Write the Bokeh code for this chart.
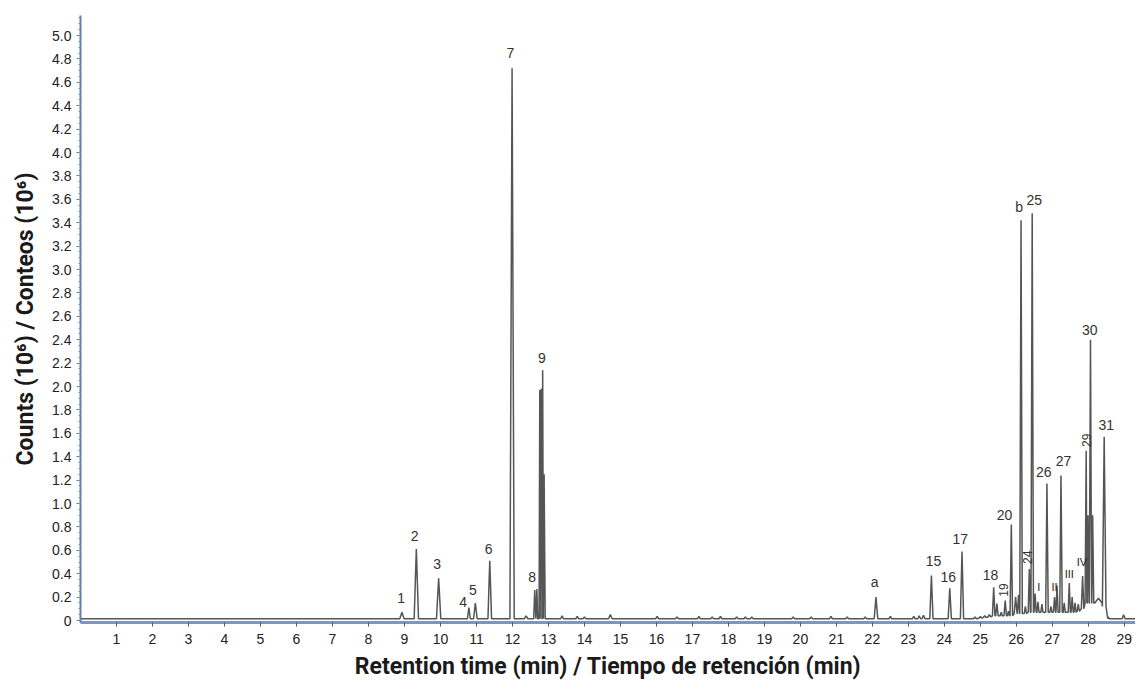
import math
from bokeh.plotting import figure
from bokeh.models import Range1d, FixedTicker, ColumnDataSource, Title
from bokeh.core.properties import value
from bokeh.embed import file_html
from bokeh.resources import INLINE

# ---------------- data ----------------
# retention time (min), apex height (10^6 counts), half base width (min), foot level (10^6 counts)
peak_rt = [8.93, 9.33, 9.95, 10.79, 10.97, 11.37, 11.99, 12.38, 12.62, 12.68, 12.76, 12.80, 12.84, 12.88,
           13.38, 13.80, 14.00, 14.72, 16.02, 16.57, 17.18, 17.55, 17.78, 18.23, 18.47, 18.65,
           19.80, 20.30, 20.85, 21.30, 21.80, 22.10, 22.50, 23.15, 23.30, 23.42,
           23.64, 24.15, 24.49, 24.85, 25.00, 25.12, 25.25, 25.37, 25.46, 25.58, 25.69, 25.78,
           25.86, 25.98, 26.06, 26.13, 26.25, 26.36, 26.44, 26.52, 26.60, 26.71, 26.85, 26.96,
           27.06, 27.13, 27.24, 27.33, 27.47, 27.55, 27.63, 27.72, 27.84, 27.94, 27.99, 28.06,
           28.12, 28.28, 28.44, 28.56, 28.98]
peak_height = [0.07, 0.61, 0.36, 0.11, 0.15, 0.51, 4.72, 0.04, 0.26, 0.27, 1.97, 1.98, 2.14, 1.25,
               0.04, 0.035, 0.03, 0.05, 0.035, 0.03, 0.035, 0.03, 0.035, 0.03, 0.03, 0.03,
               0.03, 0.03, 0.035, 0.03, 0.03, 0.20, 0.035, 0.035, 0.04, 0.045,
               0.385, 0.276, 0.59, 0.03, 0.035, 0.04, 0.05, 0.285, 0.145, 0.07, 0.17, 0.08,
               0.82, 0.20, 0.22, 3.42, 0.12, 0.44, 3.48, 0.23, 0.16, 0.14, 1.17, 0.12,
               0.20, 0.30, 1.24, 0.15, 0.32, 0.20, 0.15, 0.14, 0.38, 1.45, 0.90, 2.40,
               0.90, 0.19, 1.57, 0.03, 0.05]
peak_halfwidth = [0.06, 0.06, 0.06, 0.04, 0.05, 0.05, 0.06, 0.05, 0.03, 0.03, 0.06, 0.06, 0.07, 0.05,
                  0.04, 0.04, 0.04, 0.05, 0.04, 0.04, 0.04, 0.04, 0.04, 0.04, 0.04, 0.04,
                  0.04, 0.04, 0.04, 0.04, 0.04, 0.05, 0.04, 0.04, 0.04, 0.04,
                  0.045, 0.045, 0.045, 0.04, 0.04, 0.04, 0.04, 0.035, 0.035, 0.03, 0.035, 0.03,
                  0.035, 0.04, 0.03, 0.035, 0.03, 0.03, 0.035, 0.03, 0.03, 0.03, 0.035, 0.03,
                  0.03, 0.03, 0.035, 0.03, 0.03, 0.03, 0.03, 0.03, 0.035, 0.03, 0.03, 0.035,
                  0.03, 0.10, 0.05, 0.02, 0.04]
peak_foot = [0.015, 0.015, 0.015, 0.015, 0.015, 0.015, 0.015, 0.015, 0.015, 0.015, 0.015, 0.015, 0.015, 0.015,
             0.015, 0.015, 0.015, 0.015, 0.015, 0.015, 0.015, 0.015, 0.015, 0.015, 0.015, 0.015,
             0.015, 0.015, 0.015, 0.015, 0.015, 0.015, 0.015, 0.015, 0.015, 0.015,
             0.015, 0.015, 0.015, 0.015, 0.02, 0.025, 0.03, 0.04, 0.04, 0.04, 0.04, 0.04,
             0.04, 0.06, 0.06, 0.06, 0.06, 0.07, 0.07, 0.07, 0.07, 0.07, 0.07, 0.07,
             0.07, 0.07, 0.07, 0.07, 0.07, 0.07, 0.07, 0.08, 0.10, 0.15, 0.15, 0.15,
             0.15, 0.15, 0.12, 0.015, 0.015]
baseline_level = 0.015
run_start, run_end = 0.0, 29.4

# peak labels
label_text = ["1", "2", "3", "4", "5", "6", "7", "8", "9", "a", "15", "16", "17", "18", "20",
              "b", "25", "26", "27", "30", "31"]
label_rt = [8.91, 9.28, 9.91, 10.63, 10.90, 11.34, 11.94, 12.55, 12.82, 22.06, 23.70, 24.11,
            24.44, 25.28, 25.67, 26.08, 26.50, 26.76, 27.31, 28.04, 28.50]
label_y = [0.19, 0.72, 0.48, 0.16, 0.26, 0.61, 4.85, 0.37, 2.24, 0.33, 0.51, 0.37,
           0.70, 0.39, 0.90, 3.53, 3.59, 1.27, 1.36, 2.48, 1.67]
vlabel_text = ["19", "24", "29"]
vlabel_rt = [25.65, 26.30, 27.94]
vlabel_y = [0.26, 0.54, 1.54]
roman_text = ["I", "II", "III", "IV"]
roman_rt = [26.62, 27.06, 27.47, 27.82]
roman_y = [0.285, 0.285, 0.40, 0.50]

x_ticks = list(range(1, 30))
x_tick_labels = [str(t) for t in x_ticks]
y_ticks = [0, 0.2, 0.4, 0.6, 0.8, 1.0, 1.2, 1.4, 1.6, 1.8, 2.0, 2.2, 2.4, 2.6, 2.8, 3.0,
           3.2, 3.4, 3.6, 3.8, 4.0, 4.2, 4.4, 4.6, 4.8, 5.0]
y_tick_labels = ["0", "0.2", "0.4", "0.6", "0.8", "1.0", "1.2", "1.4", "1.6", "1.8", "2.0",
                 "2.2", "2.4", "2.6", "2.8", "3.0", "3.2", "3.4", "3.6", "3.8", "4.0", "4.2",
                 "4.4", "4.6", "4.8", "5.0"]

# ---------------- build the trace from the peak table ----------------
pts = [(run_start, baseline_level)]
for rt, h, w, f in zip(peak_rt, peak_height, peak_halfwidth, peak_foot):
    pts += [(rt - w, f), (rt, h), (rt + w, f)]
pts.append((run_end, baseline_level))
pts.sort(key=lambda p: p[0])
trace = ColumnDataSource(dict(t=[p[0] for p in pts], s=[p[1] for p in pts]))

TITLE_FONT = "Liberation Sans Narrow, Roboto, sans-serif"
TICK_FONT = "Liberation Sans"

p = figure(width=1135, height=685, output_backend="svg", toolbar_location=None,
           x_range=Range1d(0, 29.31), y_range=Range1d(-0.017, 5.171),
           min_border_left=80, min_border_right=0, min_border_top=15, min_border_bottom=63,
           background_fill_color="white", border_fill_color="white")
p.outline_line_color = None
p.grid.visible = False

p.line("t", "s", source=trace, line_color="#555555", line_width=1.5)

p.text(x=label_rt, y=label_y, text=label_text, text_align="center", text_baseline="middle",
       text_font=value(TICK_FONT), text_font_size="14px", text_color="#333333")
p.text(x=vlabel_rt, y=vlabel_y, text=vlabel_text, text_align="center", text_baseline="middle",
       angle=math.pi / 2, text_font=value(TICK_FONT), text_font_size="12px", text_color="#333333")
p.text(x=roman_rt, y=roman_y, text=roman_text, text_align="center", text_baseline="middle",
       text_font=value(TICK_FONT), text_font_size="11px", text_color="#222222")

# x axis
xa = p.xaxis[0]
xa.ticker = FixedTicker(ticks=x_ticks)
xa.major_label_overrides = {t: l for t, l in zip(x_ticks, x_tick_labels)}
xa.axis_line_color = "#7a96c2"
xa.axis_line_width = 3
xa.major_tick_in = 0
xa.major_tick_out = 4
xa.major_tick_line_color = "#555555"
xa.minor_tick_line_color = None
xa.major_label_standoff = 7
xa.major_label_text_font = TICK_FONT
xa.major_label_text_font_size = "14px"
xa.major_label_text_color = "#222222"

p.add_layout(Title(text="Retention time (min) / Tiempo de retención (min)", align="center",
                   offset=-25, standoff=9, text_font=TITLE_FONT, text_font_size="23px",
                   text_font_style="bold", text_color="#1a1a1a"), "below")

# y axis
ya = p.yaxis[0]
ya.ticker = FixedTicker(ticks=y_ticks, minor_ticks=[round(0.05 * i, 2) for i in range(104)])
ya.major_label_overrides = {t: l for t, l in zip(y_ticks, y_tick_labels)}
ya.axis_line_color = "#5f7fb0"
ya.axis_line_width = 2
ya.major_tick_in = 0
ya.major_tick_out = 4
ya.minor_tick_in = 0
ya.minor_tick_out = 2
ya.major_tick_line_color = "#5f7fb0"
ya.minor_tick_line_color = "#7a96c2"
ya.major_label_standoff = 5
ya.major_label_text_font = TICK_FONT
ya.major_label_text_font_size = "14px"
ya.major_label_text_color = "#222222"
ya.axis_label = "Counts (10⁶) / Conteos (10⁶)"
ya.axis_label_standoff = 10
ya.axis_label_text_font = TITLE_FONT
ya.axis_label_text_font_size = "23px"
ya.axis_label_text_font_style = "bold"
ya.axis_label_text_color = "#1a1a1a"

open("out.html", "w").write(file_html(p, INLINE))
